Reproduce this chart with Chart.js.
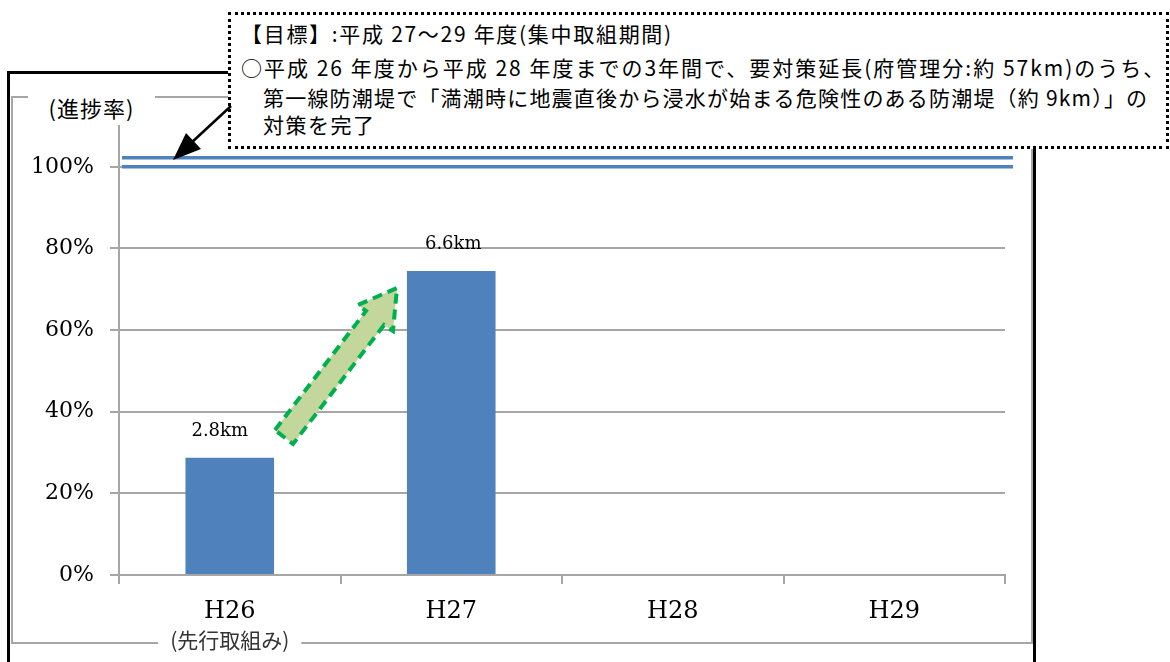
<!DOCTYPE html>
<html>
<head>
<meta charset="utf-8">
<script src="https://cdn.jsdelivr.net/npm/chart.js@4"></script>
<style>
  body { margin: 0; background: #fff; }
  #wrap { position: relative; width: 1170px; height: 662px; overflow: hidden; background: #fff; }
  .frame { position: absolute; left: 7px; top: 71px; width: 1029px; height: 640px; border: 3px solid #000; box-sizing: border-box; }
  .inner { position: absolute; left: 11px; top: 96px; width: 1022px; height: 548px; border: 2px solid #a6a6a6; box-sizing: border-box; }
  .ytitle { position: absolute; left: 28px; top: 93px; width: 127px; height: 28px; line-height: 28px; background: #fff; text-align: center;
            font-family: "Noto Sans CJK JP", sans-serif; font-size: 22px; letter-spacing: 1px; color: #000; }
  canvas { position: absolute; left: 0; top: 0; }
  .callout { position: absolute; left: 228px; top: 12px; width: 941px; height: 137px; border: 3px dotted #000; background: #fff; box-sizing: border-box; }
  .callout div { position: absolute; white-space: nowrap; font-family: "Noto Sans CJK JP", sans-serif; font-size: 21px; line-height: 24px; color: #000; }
  svg { position: absolute; left: 0; top: 0; }
</style>
</head>
<body>
<div id="wrap">
  <div class="frame"></div>
  <div class="inner"></div>
  <div class="ytitle">(進捗率)</div>
  <canvas id="chart" width="1170" height="662"></canvas>
  <div class="callout">
    <div style="left:10px; top:6px; letter-spacing:1.7px;">【目標】:平成 27～29 年度(集中取組期間)</div>
    <div style="left:10px; top:40px; letter-spacing:2px;">○平成 26 年度から平成 28 年度までの3年間で、要対策延長(府管理分:約 57km)のうち、</div>
    <div style="left:32px; top:70px; letter-spacing:1.2px;">第一線防潮堤で「満潮時に地震直後から浸水が始まる危険性のある防潮堤（約 9km）」の</div>
    <div style="left:32px; top:97px; letter-spacing:1.5px;">対策を完了</div>
  </div>
  <svg width="1170" height="662">
    <line x1="231" y1="106" x2="190" y2="144" stroke="#000" stroke-width="2.5"/>
    <polygon points="173,160 201,149 186,133" fill="#000"/>
    <polygon points="275,430 366,311 358,305 397,288 393,331 384,325 293,444"
             fill="#c3d69b" stroke="#00b050" stroke-width="4" stroke-dasharray="10 6" stroke-linejoin="miter"/>
  </svg>
</div>
<script>
// data
const categories = ['H26', 'H27', 'H28', 'H29'];
const subLabels = ['(先行取組み)', '', '', ''];
const progress = [28.7, 74.5, null, null];
const barLabels = ['2.8km', '6.6km', '', ''];
const yTicks = [0, 20, 40, 60, 80, 100];
const targetLines = [100, 102.2];

const BLUE = '#4f81bd';
const GRID = '#a6a6a6';
const SERIF = '"DejaVu Serif", serif';

// value labels above the bars (first one sits a bit left, clear of the green arrow)
const barValue = {
  id: 'barValue',
  afterDatasetsDraw(chart) {
    const { ctx } = chart;
    const meta = chart.getDatasetMeta(0);
    ctx.save();
    ctx.font = '18px ' + SERIF;
    ctx.fillStyle = '#000';
    ctx.textAlign = 'center';
    ctx.textBaseline = 'middle';
    meta.data.forEach((bar, i) => {
      if (progress[i] == null) return;
      const dx = i === 0 ? -10 : 2;
      ctx.fillText(barLabels[i], bar.x + dx, bar.y - 27);
    });
    ctx.restore();
  }
};

// double blue target line at 100%
const targetLine = {
  id: 'targetLine',
  afterDatasetsDraw(chart) {
    const { ctx, chartArea, scales } = chart;
    ctx.save();
    ctx.strokeStyle = BLUE;
    ctx.lineWidth = 3.5;
    targetLines.forEach((v) => {
      const y = scales.y.getPixelForValue(v);
      ctx.beginPath();
      ctx.moveTo(chartArea.left + 3, y);
      ctx.lineTo(chartArea.right + 8, y);
      ctx.stroke();
    });
    ctx.restore();
  }
};

// second line under the first category, breaking the grey frame
const subLabel = {
  id: 'subLabel',
  afterDraw(chart) {
    const { ctx, scales } = chart;
    ctx.save();
    ctx.font = '21px "Noto Sans CJK JP", sans-serif';
    ctx.textAlign = 'center';
    ctx.textBaseline = 'middle';
    subLabels.forEach((t, i) => {
      if (!t) return;
      const x = scales.x.getPixelForValue(i);
      const w = ctx.measureText(t).width;
      ctx.fillStyle = '#fff';
      ctx.fillRect(x - w / 2 - 12, 628, w + 24, 24);
      ctx.fillStyle = '#333';
      ctx.fillText(t, x, 640);
    });
    ctx.restore();
  }
};

new Chart(document.getElementById('chart'), {
  type: 'bar',
  data: {
    labels: categories,
    datasets: [{
      data: progress,
      backgroundColor: BLUE,
      barPercentage: 0.4,
      categoryPercentage: 1
    }]
  },
  options: {
    responsive: false,
    animation: false,
    layout: { padding: { top: 126, right: 165, left: 0, bottom: 0 } },
    plugins: { legend: { display: false }, tooltip: { enabled: false } },
    scales: {
      x: {
        afterFit: (s) => { s.height = 87; },
        border: { color: GRID, width: 2 },
        grid: { drawOnChartArea: false, color: GRID, lineWidth: 2, tickLength: 9 },
        ticks: { color: '#000', font: { family: SERIF, size: 24 }, padding: 13 }
      },
      y: {
        min: 0,
        max: 110,
        afterFit: (s) => { s.width = 119; },
        afterBuildTicks: (s) => { s.ticks = yTicks.map((v) => ({ value: v })); },
        border: { color: GRID, width: 2 },
        grid: { color: GRID, lineWidth: 2, tickLength: 9 },
        ticks: {
          color: '#000',
          font: { family: SERIF, size: 22 },
          padding: 16,
          callback: (v) => v + '%'
        }
      }
    }
  },
  plugins: [targetLine, barValue, subLabel]
});
</script>
</body>
</html>
